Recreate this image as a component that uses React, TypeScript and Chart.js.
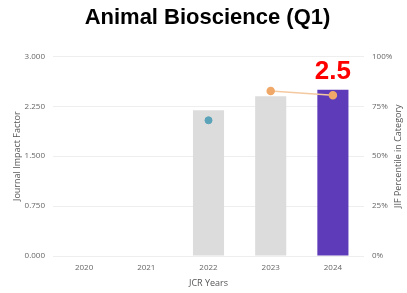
import React, { useEffect, useRef } from "react";
import { Chart, registerables } from "chart.js";

Chart.register(...registerables);

const years = ["2020", "2021", "2022", "2023", "2024"];
const jif = [null, null, 2.19, 2.4, 2.5];
const barColors = ["#dcdcdc", "#dcdcdc", "#dcdcdc", "#dcdcdc", "#5e3bb8"];
const pctBlue = [null, null, 68, null, null];
const pctOrange = [null, null, null, 82.7, 80.5];
const leftTicks = [0, 0.75, 1.5, 2.25, 3];
const highlightLabel = "2.5";
const rightTitle = "JIF Percentile in Category";

const labelPlugin = {
  id: "highlightLabel",
  afterDatasetsDraw(chart: any) {
    const meta = chart.getDatasetMeta(0);
    const el = meta.data[4];
    if (!el) return;
    const ctx = chart.ctx;
    ctx.save();
    ctx.fillStyle = "#ff0000";
    ctx.font = "bold 26px 'Liberation Sans', Arial, sans-serif";
    ctx.textAlign = "center";
    ctx.textBaseline = "bottom";
    ctx.fillText(highlightLabel, el.x, el.y - 5);
    ctx.restore();
  },
  afterDraw(chart: any) {
    const ctx = chart.ctx;
    const area = chart.chartArea;
    ctx.save();
    ctx.translate(398, (area.top + area.bottom) / 2);
    ctx.rotate(-Math.PI / 2);
    ctx.fillStyle = "#555";
    ctx.font = "9px 'Open Sans', sans-serif";
    ctx.textAlign = "center";
    ctx.textBaseline = "middle";
    ctx.fillText(rightTitle, 0, 0);
    ctx.restore();
  },
};

export default function App() {
  const ref = useRef<HTMLCanvasElement>(null);
  useEffect(() => {
    document.body.style.margin = "0";
    const tickFont = { family: "'Open Sans', sans-serif", size: 8 };
    const titleFont = { family: "'Open Sans', sans-serif", size: 9 };
    const chart = new Chart(ref.current as HTMLCanvasElement, {
      type: "bar",
      data: {
        labels: years,
        datasets: [
          {
            type: "bar",
            data: jif as any,
            backgroundColor: barColors,
            yAxisID: "y",
            barPercentage: 0.5,
            categoryPercentage: 1,
            order: 2,
          },
          {
            type: "line",
            data: pctBlue as any,
            yAxisID: "y1",
            borderColor: "#5aa3b8",
            backgroundColor: "#5aa3b8",
            pointRadius: 3.5,
            showLine: false,
            order: 1,
          },
          {
            type: "line",
            data: pctOrange as any,
            yAxisID: "y1",
            borderColor: "#f5c9a0",
            backgroundColor: "#f0a868",
            pointBorderColor: "#f0a868",
            pointRadius: 3.5,
            borderWidth: 1.5,
            order: 1,
          },
        ],
      },
      options: {
        responsive: false,
        animation: false,
        layout: { padding: { left: 8, right: 0, top: 0, bottom: 0 } },
        plugins: {
          legend: { display: false },
          tooltip: { enabled: false },
          title: {
            display: true,
            text: "Animal Bioscience (Q1)",
            color: "#000",
            font: { family: "'Liberation Sans', Arial, sans-serif", size: 22, weight: "bold" },
            padding: { top: 5, bottom: 25 },
          },
        },
        scales: {
          x: {
            grid: { display: false, drawTicks: false },
            border: { display: false },
            ticks: { color: "#666", font: tickFont, padding: 7 },
            title: { display: true, text: "JCR Years", color: "#555", font: titleFont, padding: { top: 1, bottom: 4 } },
            afterFit: (axis: any) => {
              axis.height = 37;
            },
          },
          y: {
            min: 0,
            max: 3,
            afterBuildTicks: (axis: any) => {
              axis.ticks = leftTicks.map((v) => ({ value: v }));
            },
            afterFit: (axis: any) => {
              axis.width = 45;
            },
            ticks: {
              color: "#666",
              font: tickFont,
              padding: 8,
              callback: (v: any) => Number(v).toFixed(3),
            },
            grid: { color: "#eeeeee", drawTicks: false },
            border: { display: false },
            title: { display: true, text: "Journal Impact Factor", color: "#555", font: titleFont },
          },
          y1: {
            position: "right",
            min: 0,
            max: 100,
            afterFit: (axis: any) => {
              axis.width = 43;
            },
            ticks: {
              stepSize: 25,
              color: "#666",
              font: tickFont,
              padding: 8,
              callback: (v: any) => v + "%",
            },
            grid: { display: false, drawTicks: false },
            border: { display: false },
          },
        },
      },
      plugins: [labelPlugin],
    });
    return () => chart.destroy();
  }, []);
  return (
    <div style={{ width: 407, height: 293 }}>
      <canvas ref={ref} width={407} height={293} />
    </div>
  );
}
